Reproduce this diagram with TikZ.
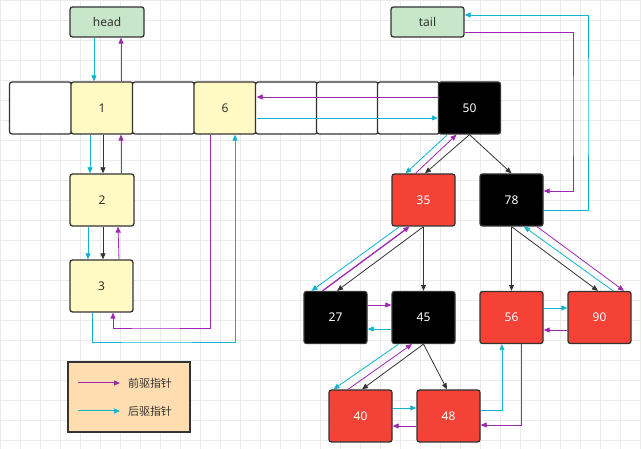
\documentclass[tikz,border=0pt]{standalone}
\usepackage{fontspec}
\setmainfont{Noto Sans}
\newfontfamily\cjk{Noto Sans CJK SC}
\usetikzlibrary{arrows.meta,calc}
\definecolor{pur}{HTML}{9C27B0}
\definecolor{cya}{HTML}{10B4CC}
\definecolor{rd}{HTML}{F44336}
\definecolor{yl}{HTML}{FFF9C4}
\definecolor{gr}{HTML}{C8E6C9}
\definecolor{pe}{HTML}{FFDDB0}
\definecolor{dk}{HTML}{333333}
\begin{document}
\begin{tikzpicture}[x=1pt,y=-1pt,
 box/.style={draw=dk,line width=1.3pt,rounded corners=2.5pt,minimum width=#1,inner sep=0pt,font=\fontsize{12}{14}\selectfont},
 box/.default=62pt,
 c/.style={minimum height=52pt},
 wh/.style={fill=white},
 y1/.style={fill=yl,text=dk},
 bk/.style={fill=black,text=white},
 rr/.style={fill=rd,text=white},
 g/.style={fill=gr,text=dk,minimum height=30pt},
 pa/.style={pur,line width=0.8pt,-{Triangle[length=6pt,width=5pt]}},
 ca/.style={cya,line width=0.8pt,-{Triangle[length=6pt,width=5pt]}},
 da/.style={dk,line width=0.8pt,-{Triangle[length=6pt,width=5pt]}}]
\useasboundingbox (0,0) rectangle (641,449);
\fill[white] (0,0) rectangle (641,449);
\draw[black!8,line width=0.5pt] (0,0) grid[step=20pt] (641,449);
% row
\node[box,c,wh] (e0) at (40.5,108) {};
\node[box,c,y1] (n1) at (102,108) {1};
\node[box,c,wh] (e2) at (163.5,108) {};
\node[box,c,y1] (n6) at (225,108) {6};
\node[box,c,wh] (e4) at (286.5,108) {};
\node[box,c,wh] (e5) at (347.5,108) {};
\node[box,c,wh] (e6) at (408.5,108) {};
\node[box,c,bk] (n50) at (469.5,108) {50};
\node[box=74pt,g] (head) at (107,22) {head};
\node[box=73pt,g] (tail) at (427.5,22) {tail};
\node[box=64pt,c,y1] (n2) at (102,200) {2};
\node[box=63pt,c,y1] (n3) at (101.5,286) {3};
\node[box=63pt,c,rr] (n35) at (423.5,200) {35};
\node[box=63pt,c,bk] (n78) at (511.5,200) {78};
\node[box=63pt,c,bk] (n27) at (335.5,317.5) {27};
\node[box=63pt,c,bk] (n45) at (423.5,317.5) {45};
\node[box=63pt,c,rr] (n56) at (511.5,317.5) {56};
\node[box=63pt,c,rr] (n90) at (599.5,317.5) {90};
\node[box=63pt,c,rr] (n40) at (360.5,416) {40};
\node[box=63pt,c,rr] (n48) at (448.5,416) {48};
% head/list
\draw[ca] ([xshift=-13pt]head.south) -- ([xshift=-8pt]n1.north);
\draw[pa] ([xshift=19pt]n1.north) -- ([xshift=14pt]head.south);
\draw[ca] ([xshift=-12pt]n1.south) -- ([xshift=-12pt]n2.north);
\draw[da] ([xshift=1pt]n1.south) -- ([xshift=1pt]n2.north);
\draw[pa] ([xshift=19pt]n2.north) -- ([xshift=19pt]n1.south);
\draw[ca] ([xshift=-14pt]n2.south) -- ([xshift=-13.5pt]n3.north);
\draw[da] ([xshift=1pt]n2.south) -- ([xshift=1.5pt]n3.north);
\draw[pa] ([xshift=17.5pt]n3.north) -- ([xshift=16pt]n2.south);
\draw[pa] ([xshift=-15pt]n6.south) |- (150,328) -| ([xshift=11.5pt]n3.south);
\draw[ca] ([xshift=-9.5pt]n3.south) |- (150,342) -| ([xshift=10pt]n6.south);
\draw[pa] ([xshift=1pt]n50.west |- 0,97) -- (n6.east |- 0,97);
\draw[ca] (n6.east |- 0,118) -- (n50.west |- 0,118);
\draw[pa] (tail.east |- 0,32) -| (573,120) |- (n78.east |- 0,191);
\draw[ca] (n78.east |- 0,210) -| (588,100) |- (tail.east |- 0,15);
% tree
\draw[ca] ([xshift=-22pt]n50.south) -- ([xshift=-18pt]n35.north);
\draw[pa] ([xshift=-8pt]n35.north) -- ([xshift=-13pt]n50.south);
\draw[da] (n50.south) -- ([xshift=1.5pt]n35.north);
\draw[da] (n50.south) -- (n78.north);
\draw[ca] ([xshift=-24pt]n35.south) -- ([xshift=-24pt]n27.north);
\draw[pa,line width=1.3pt] ([xshift=-13pt]n27.north) -- ([xshift=-14pt]n35.south);
\draw[da] (n35.south) -- ([xshift=1.5pt]n27.north);
\draw[da] (n35.south) -- (n45.north);
\draw[da] (n78.south) -- (n56.north);
\draw[da] (n78.south) -- ([xshift=-1.5pt]n90.north);
\draw[ca] ([xshift=13.5pt]n90.north) -- ([xshift=12.5pt]n78.south);
\draw[pa] ([xshift=25.5pt]n78.south) -- ([xshift=24.5pt]n90.north);
\draw[pa] (n27.east |- 0,305) -- (n45.west |- 0,305);
\draw[ca] (n45.west |- 0,329) -- (n27.east |- 0,329);
\draw[ca] (n56.east |- 0,308) -- (n90.west |- 0,308);
\draw[pa] (n90.west |- 0,330) -- (n56.east |- 0,330);
\draw[ca] ([xshift=-25pt]n45.south) -- ([xshift=-27pt]n40.north);
\draw[pa] ([xshift=-12.5pt]n40.north) -- ([xshift=-11.5pt]n45.south);
\draw[da] (n45.south) -- ([xshift=1.5pt]n40.north);
\draw[da] (n45.south) -- ([xshift=-1.5pt]n48.north);
\draw[ca] (n40.east |- 0,408) -- (n48.west |- 0,408);
\draw[pa] (n48.west |- 0,426) -- (n40.east |- 0,426);
\draw[ca] (n48.east |- 0,410) -| ([xshift=-9.5pt]n56.south);
\draw[pa] ([xshift=9.5pt]n56.south) |- (n48.east |- 0,425);
% legend
\node[draw=dk,line width=1.3pt,fill=pe,minimum width=122pt,minimum height=70pt,inner sep=0pt] (leg) at (129,397) {};
\coordinate (l1) at (78,383); \coordinate (l1e) at (120,383);
\coordinate (l2) at (78,411); \coordinate (l2e) at (120,411);
\draw[pa,line width=1pt] (l1) -- (l1e);
\draw[ca,line width=1pt] (l2) -- (l2e);
\node[font=\cjk\fontsize{11}{13}\selectfont,text=dk] (t1) at (150,383) {前驱指针};
\node[font=\cjk\fontsize{11}{13}\selectfont,text=dk] (t2) at (150,411) {后驱指针};
\end{tikzpicture}
\end{document}
